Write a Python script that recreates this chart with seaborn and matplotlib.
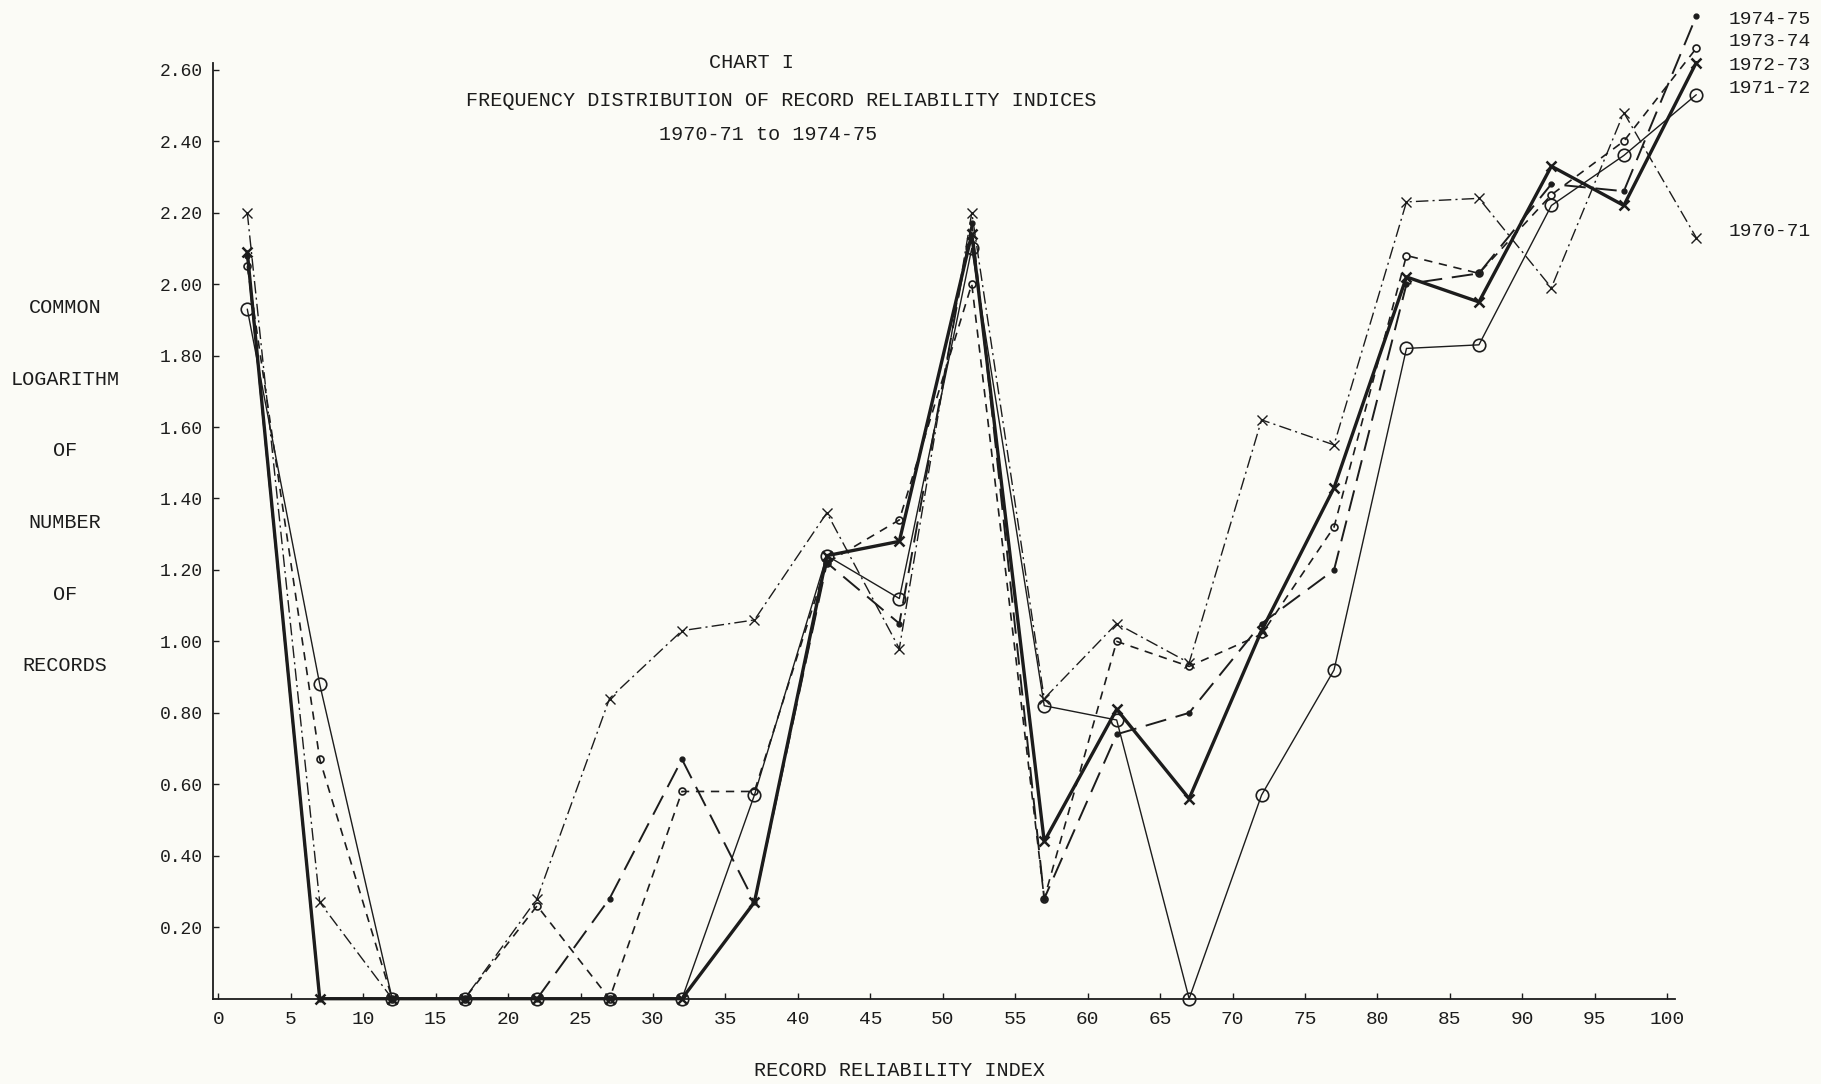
import pandas as pd
import matplotlib
matplotlib.use("Agg")
import matplotlib.pyplot as plt
import seaborn as sns

# === 1. Data ===
index_mid = [2, 7, 12, 17, 22, 27, 32, 37, 42, 47, 52, 57, 62, 67, 72, 77, 82, 87, 92, 97, 102]

y_1970_71 = [2.20, 0.27, 0.00, 0.00, 0.28, 0.84, 1.03, 1.06, 1.36, 0.98, 2.20, 0.84,
             1.05, 0.94, 1.62, 1.55, 2.23, 2.24, 1.99, 2.48, 2.13]
y_1971_72 = [1.93, 0.88, 0.00, 0.00, 0.00, 0.00, 0.00, 0.57, 1.24, 1.12, 2.10, 0.82,
             0.78, 0.00, 0.57, 0.92, 1.82, 1.83, 2.22, 2.36, 2.53]
y_1972_73 = [2.09, 0.00, 0.00, 0.00, 0.00, 0.00, 0.00, 0.27, 1.24, 1.28, 2.14, 0.44,
             0.81, 0.56, 1.03, 1.43, 2.02, 1.95, 2.33, 2.22, 2.62]
y_1973_74 = [2.05, 0.67, 0.00, 0.00, 0.26, 0.00, 0.58, 0.58, 1.22, 1.34, 2.00, 0.28,
             1.00, 0.93, 1.02, 1.32, 2.08, 2.03, 2.25, 2.40, 2.66]
y_1974_75 = [2.08, 0.00, 0.00, 0.00, 0.00, 0.28, 0.67, 0.27, 1.22, 1.05, 2.17, 0.28,
             0.74, 0.80, 1.05, 1.20, 2.00, 2.03, 2.28, 2.26, 2.75]

series_names = ["1970-71", "1971-72", "1972-73", "1973-74", "1974-75"]
series_values = [y_1970_71, y_1971_72, y_1972_73, y_1973_74, y_1974_75]

y_ticks = [0.20, 0.40, 0.60, 0.80, 1.00, 1.20, 1.40, 1.60, 1.80, 2.00, 2.20, 2.40, 2.60]
x_ticks = list(range(0, 101, 5))
y_words = ["COMMON", "LOGARITHM", "OF", "NUMBER", "OF", "RECORDS"]

# === 2. Styles (one per year) ===
styles = {
    "1970-71": dict(linestyle=(0, (9, 3, 1.5, 3)), linewidth=1.0, marker="x", markersize=7, mfc="none"),
    "1971-72": dict(linestyle="-", linewidth=1.0, marker="o", markersize=9, mfc="none", mew=1.2),
    "1972-73": dict(linestyle="-", linewidth=2.4, marker="x", markersize=7, mew=1.8),
    "1973-74": dict(linestyle=(0, (5, 4)), linewidth=1.2, marker="o", markersize=5, mfc="none", mew=1.2),
    "1974-75": dict(linestyle=(0, (11, 5)), linewidth=1.4, marker=".", markersize=7),
}
label_y = {"1974-75": 19, "1973-74": 42, "1972-73": 65, "1971-72": 89, "1970-71": 232}

ink = "#1c1c1c"
paper = "#fbfbf6"
mono = ["Liberation Mono", "DejaVu Sans Mono"]

# === 3. Plotting ===
sns.set_style("ticks")
plt.rcParams["font.family"] = mono

W, H = 1821, 1084
fig = plt.figure(figsize=(W / 100, H / 100), dpi=100, facecolor=paper)
x0, x1 = -0.4, 103.0
y0, y1 = 0.0, 2.78
px_unit = 14.49
left = 218.3 + x0 * px_unit
right = 218.3 + x1 * px_unit
bottom = 998.7
top = bottom - (y1 - y0) * 357.3
ax = fig.add_axes([left / W, 1 - bottom / H, (right - left) / W, (bottom - top) / H])
ax.set_facecolor(paper)

for name, vals in zip(series_names, series_values):
    df = pd.DataFrame({"idx": index_mid, "val": vals})
    st = styles[name]
    sns.lineplot(data=df, x="idx", y="val", ax=ax, color=ink, estimator=None,
                 linestyle=st["linestyle"], linewidth=st["linewidth"],
                 marker=st["marker"], markersize=st["markersize"],
                 markerfacecolor=st.get("mfc", ink), markeredgecolor=ink,
                 markeredgewidth=st.get("mew", 1.0), clip_on=False)

ax.set_xlim(x0, x1)
ax.set_ylim(y0, y1)
sns.despine(ax=ax)
ax.spines["left"].set_bounds(0, 2.62)
ax.spines["bottom"].set_bounds(x0, 100.5)
for s in ("left", "bottom"):
    ax.spines[s].set_linewidth(1.3)
    ax.spines[s].set_color(ink)

ax.set_xticks(x_ticks)
ax.set_xticklabels([str(t) for t in x_ticks], fontsize=14)
ax.set_yticks(y_ticks)
ax.set_yticklabels([f"{t:.2f}" for t in y_ticks], fontsize=13)
ax.tick_params(axis="both", direction="in", length=4, width=1, colors=ink, labelcolor=ink)
ax.tick_params(axis="x", pad=9)
ax.tick_params(axis="y", pad=7)
ax.set_xlabel("")
ax.set_ylabel("")

# Titles
fig.text(751 / W, 1 - 62 / H, "CHART I", ha="center", va="center", fontsize=14.5, color=ink)
fig.text(781 / W, 1 - 100 / H, "FREQUENCY DISTRIBUTION OF RECORD RELIABILITY INDICES",
         ha="center", va="center", fontsize=14.5, color=ink)
fig.text(768 / W, 1 - 135 / H, "1970-71 to 1974-75", ha="center", va="center", fontsize=14.5, color=ink)

# Stacked y-axis words
for i, w in enumerate(y_words):
    fig.text(65 / W, 1 - (308 + i * 71.5) / H, w, ha="center", va="center", fontsize=14.5, color=ink)

fig.text(900 / W, 1 - 1071 / H, "RECORD RELIABILITY INDEX", ha="center", va="center",
         fontsize=14.5, color=ink)

# Year labels at the right end of the lines
for name in series_names:
    fig.text(1729 / W, 1 - label_y[name] / H, name, ha="left", va="center", fontsize=14, color=ink)

fig.savefig("out.png", dpi=100, facecolor=paper)
